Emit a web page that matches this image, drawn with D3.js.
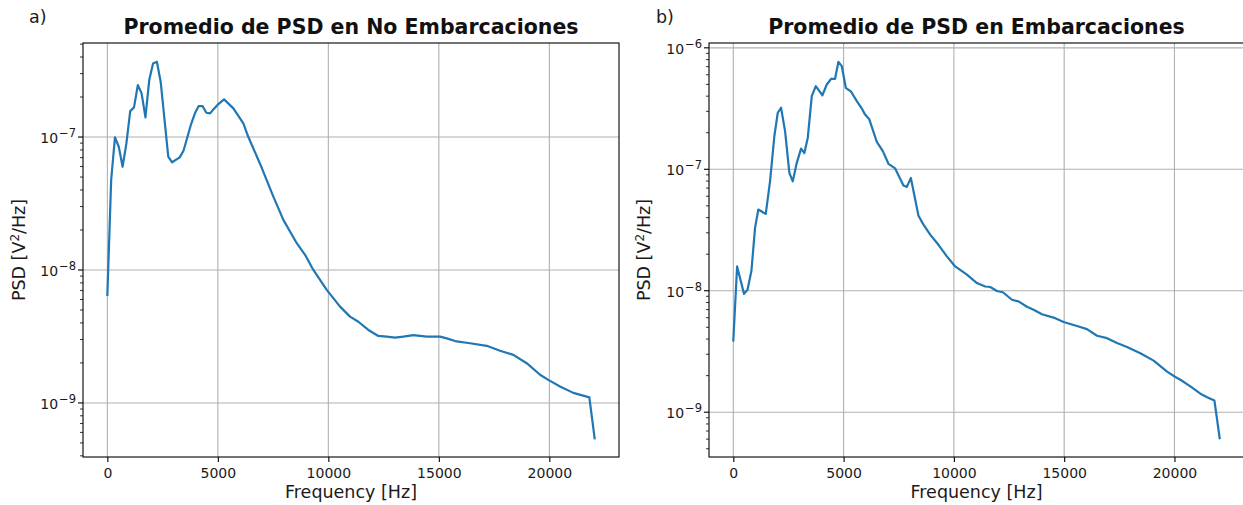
<!DOCTYPE html>
<html>
<head>
<meta charset="utf-8">
<script src="https://cdn.jsdelivr.net/npm/d3@7"></script>
<style>
  html, body { margin: 0; padding: 0; background: #fff; }
  svg { display: block; font-family: 'DejaVu Sans', sans-serif; }
</style>
</head>
<body>
<svg id="chart" width="1243" height="505"></svg>
<script>
// panel a) promedio PSD en no embarcaciones
const freqA = [0, 172, 344, 517, 689, 861, 1034, 1206, 1378, 1550, 1723, 1895, 2067, 2240, 2412,
  2756, 2929, 3273, 3445, 3790, 3962, 4134, 4307, 4479, 4651, 4796, 5023, 5281, 5701, 6154, 6380,
  6986, 7511, 7964, 8570, 8946, 9321, 9624, 9928, 10529, 10982, 11357, 11810, 12262, 12643, 13018,
  13394, 13846, 14452, 15054, 15357, 15733, 16412, 17167, 17769, 18371, 18977, 19579, 19955, 20484,
  21086, 21810, 22050];
const psdA = [6.49e-9, 4.75e-8, 9.95e-8, 8.45e-8, 5.98e-8, 8.97e-8, 1.567e-7, 1.671e-7, 2.46e-7,
  2.13e-7, 1.406e-7, 2.685e-7, 3.58e-7, 3.68e-7, 2.606e-7, 7.11e-8, 6.46e-8, 7.03e-8, 7.89e-8,
  1.253e-7, 1.507e-7, 1.71e-7, 1.71e-7, 1.524e-7, 1.507e-7, 1.614e-7, 1.77e-7, 1.919e-7, 1.644e-7,
  1.268e-7, 1.0e-7, 5.87e-8, 3.56e-8, 2.38e-8, 1.59e-8, 1.30e-8, 1.0e-8, 8.41e-9, 7.08e-9, 5.30e-9,
  4.46e-9, 4.08e-9, 3.54e-9, 3.19e-9, 3.15e-9, 3.10e-9, 3.15e-9, 3.24e-9, 3.15e-9, 3.15e-9, 3.06e-9,
  2.92e-9, 2.81e-9, 2.69e-9, 2.47e-9, 2.30e-9, 1.99e-9, 1.63e-9, 1.49e-9, 1.33e-9, 1.19e-9, 1.10e-9,
  5.43e-10];

// panel b) promedio PSD en embarcaciones
const freqB = [0, 172, 485, 644, 821, 985, 1134, 1470, 1665, 1860, 2015, 2164, 2346, 2541, 2695,
  2877, 3072, 3221, 3376, 3557, 3739, 4038, 4238, 4433, 4614, 4764, 4918, 5100, 5340, 5599, 5826,
  5975, 6157, 6506, 6779, 7033, 7337, 7713, 7868, 8049, 8394, 8621, 8925, 9301, 9682, 10059, 10590,
  11044, 11420, 11647, 11951, 12223, 12632, 12931, 13312, 13612, 13993, 14519, 14973, 15581, 16034,
  16488, 16942, 17396, 17849, 18453, 19056, 19664, 20041, 20268, 20721, 21175, 21479, 21810, 22050];
const psdB = [3.89e-9, 1.585e-8, 9.42e-9, 1.02e-8, 1.46e-8, 3.29e-8, 4.66e-8, 4.29e-8, 7.96e-8,
  1.87e-7, 2.92e-7, 3.21e-7, 2.06e-7, 9.33e-8, 7.96e-8, 1.13e-7, 1.48e-7, 1.36e-7, 1.82e-7, 4.0e-7,
  4.83e-7, 4.07e-7, 4.99e-7, 5.56e-7, 5.56e-7, 7.67e-7, 7.06e-7, 4.69e-7, 4.35e-7, 3.64e-7, 3.16e-7,
  2.82e-7, 2.60e-7, 1.68e-7, 1.41e-7, 1.11e-7, 1.016e-7, 7.36e-8, 7.16e-8, 8.49e-8, 4.15e-8, 3.50e-8,
  2.90e-8, 2.39e-8, 1.92e-8, 1.585e-8, 1.355e-8, 1.156e-8, 1.084e-8, 1.074e-8, 9.95e-9, 9.72e-9,
  8.43e-9, 8.17e-9, 7.38e-9, 6.97e-9, 6.40e-9, 6.01e-9, 5.53e-9, 5.12e-9, 4.83e-9, 4.26e-9, 4.07e-9,
  3.71e-9, 3.44e-9, 3.06e-9, 2.66e-9, 2.16e-9, 1.95e-9, 1.85e-9, 1.63e-9, 1.42e-9, 1.33e-9, 1.25e-9,
  6.11e-10];

const xTicks = [0, 5000, 10000, 15000, 20000];
const yTicksA = [1e-9, 1e-8, 1e-7];
const yTicksB = [1e-9, 1e-8, 1e-7, 1e-6];
const titles = ['Promedio de PSD en No Embarcaciones', 'Promedio de PSD en Embarcaciones'];
const panelTags = ['a)', 'b)'];
const xLabel = 'Frequency [Hz]';

const svg = d3.select('#chart');

function drawPanel(box, freq, psd, yTicks, title, tag) {
  const width = box.right - box.left;
  const height = box.bottom - box.top;
  const data = freq.map((f, i) => ({ f: f, v: psd[i] }));

  // matplotlib style 5% margins (log space for y)
  const fMax = d3.max(freq);
  const x = d3.scaleLinear()
    .domain([-0.05 * fMax, 1.05 * fMax])
    .range([0, width]);

  const lo = Math.log10(d3.min(psd));
  const hi = Math.log10(d3.max(psd));
  const pad = (hi - lo) * 0.05;
  const y = d3.scaleLog()
    .domain([Math.pow(10, lo - pad), Math.pow(10, hi + pad)])
    .range([height, 0]);

  const g = svg.append('g')
    .attr('transform', 'translate(' + box.left + ', ' + box.top + ')');

  // grid
  g.append('g')
    .selectAll('line.gx')
    .data(xTicks)
    .enter()
    .append('line')
    .attr('x1', d => x(d)).attr('x2', d => x(d))
    .attr('y1', 0).attr('y2', height)
    .attr('stroke', '#b0b0b0').attr('stroke-width', 1.1);

  g.append('g')
    .selectAll('line.gy')
    .data(yTicks)
    .enter()
    .append('line')
    .attr('x1', 0).attr('x2', width)
    .attr('y1', d => y(d)).attr('y2', d => y(d))
    .attr('stroke', '#b0b0b0').attr('stroke-width', 1.1);

  // curve
  const line = d3.line()
    .x(d => x(d.f))
    .y(d => y(d.v));

  g.append('path')
    .datum(data)
    .attr('fill', 'none')
    .attr('stroke', '#1f77b4')
    .attr('stroke-width', 2.2)
    .attr('stroke-linejoin', 'round')
    .attr('stroke-linecap', 'square')
    .attr('d', line);

  // x axis
  const xAxis = g.append('g')
    .attr('transform', 'translate(0, ' + height + ')')
    .call(d3.axisBottom(x).tickValues(xTicks).tickSize(5).tickSizeOuter(0).tickPadding(6).tickFormat(d3.format('d')));
  xAxis.select('.domain').remove();
  xAxis.selectAll('line').attr('stroke', '#000').attr('stroke-width', 1.1);
  xAxis.selectAll('text')
    .attr('fill', '#1a1a1a')
    .attr('font-size', 14)
    .attr('font-family', 'DejaVu Sans');

  // y axis: minor ticks
  const [d0, d1] = y.domain();
  const minors = [];
  for (let e = Math.floor(Math.log10(d0)); e <= Math.ceil(Math.log10(d1)); e++) {
    for (let m = 2; m <= 9; m++) {
      const v = m * Math.pow(10, e);
      if (v >= d0 && v <= d1) minors.push(v);
    }
  }
  g.append('g')
    .selectAll('line')
    .data(minors)
    .enter()
    .append('line')
    .attr('x1', -3).attr('x2', 0)
    .attr('y1', d => y(d)).attr('y2', d => y(d))
    .attr('stroke', '#000').attr('stroke-width', 0.8);

  // y axis: major ticks with 10^n labels
  const yMajor = g.append('g')
    .selectAll('g')
    .data(yTicks)
    .enter()
    .append('g')
    .attr('transform', d => 'translate(0, ' + y(d) + ')');

  yMajor.append('line')
    .attr('x1', -5).attr('x2', 0)
    .attr('stroke', '#000').attr('stroke-width', 1.1);

  const yLab = yMajor.append('text')
    .attr('x', -7)
    .attr('y', 6)
    .attr('text-anchor', 'end')
    .attr('fill', '#1a1a1a')
    .attr('font-size', 14);
  yLab.append('tspan').text('10');
  yLab.append('tspan')
    .attr('dx', 1)
    .attr('dy', -6)
    .attr('font-size', 11.5)
    .text(d => '\u2212' + Math.round(-Math.log10(d)));

  // frame
  g.append('rect')
    .attr('width', width)
    .attr('height', height)
    .attr('fill', 'none')
    .attr('stroke', '#000')
    .attr('stroke-width', 1.1);

  // labels
  g.append('text')
    .attr('x', width / 2)
    .attr('y', 498 - box.top)
    .attr('text-anchor', 'middle')
    .attr('font-size', 17.5)
    .attr('fill', '#1a1a1a')
    .text(xLabel);

  const yl = g.append('text')
    .attr('transform', 'translate(' + (box.ylabel - box.left) + ', ' + (height / 2) + ') rotate(-90)')
    .attr('text-anchor', 'middle')
    .attr('font-size', 17.5)
    .attr('fill', '#1a1a1a');
  yl.append('tspan').text('PSD [V');
  yl.append('tspan').attr('dy', -6).attr('font-size', 12).text('2');
  yl.append('tspan').attr('dy', 6).text('/Hz]');

  g.append('text')
    .attr('x', width / 2)
    .attr('y', 34 - box.top)
    .attr('text-anchor', 'middle')
    .attr('font-size', 20.5)
    .attr('font-weight', 'bold')
    .attr('fill', '#111')
    .text(title);

  svg.append('text')
    .attr('x', box.tag)
    .attr('y', 23)
    .attr('font-size', 17.5)
    .attr('fill', '#1a1a1a')
    .text(tag);
}

drawPanel({ left: 83, right: 619, top: 43, bottom: 457, ylabel: 25, tag: 29 },
  freqA, psdA, yTicksA, titles[0], panelTags[0]);
drawPanel({ left: 709, right: 1244, top: 43, bottom: 457, ylabel: 650, tag: 656 },
  freqB, psdB, yTicksB, titles[1], panelTags[1]);
</script>
</body>
</html>
